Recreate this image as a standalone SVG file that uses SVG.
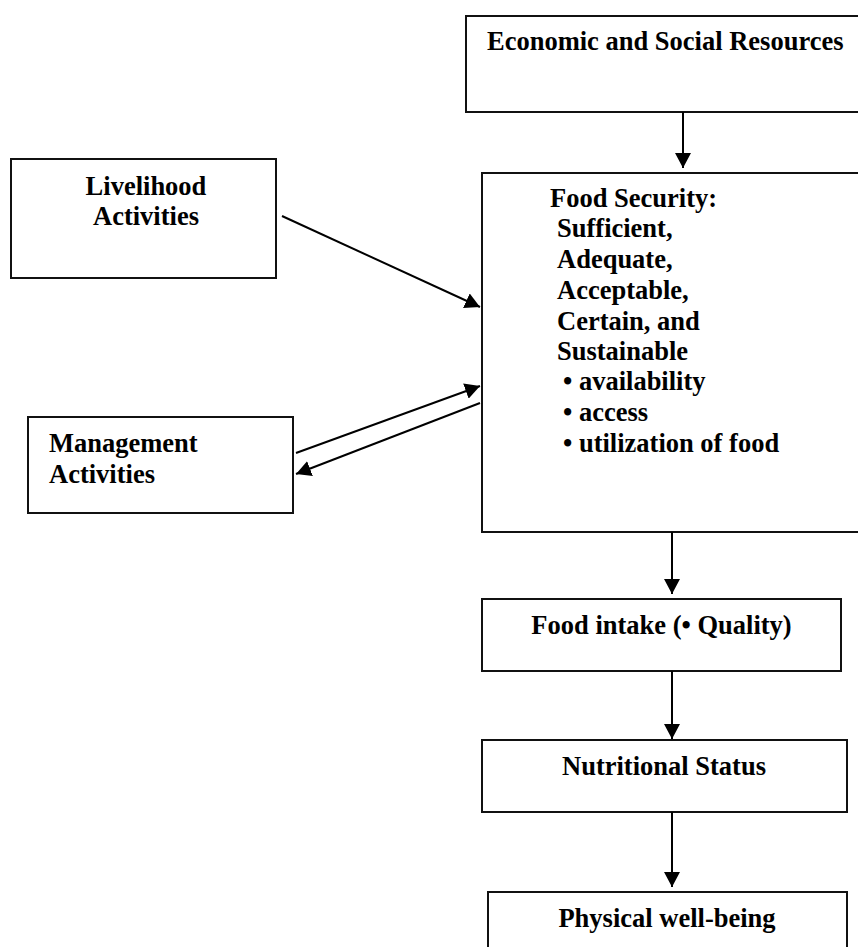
<svg xmlns="http://www.w3.org/2000/svg" width="858" height="947" viewBox="0 0 858 947">
<style>
.box{fill:#fff;stroke:#111;stroke-width:2}
.t{font-family:"Liberation Serif","Times New Roman",serif;font-weight:bold;font-size:26.5px;fill:#000}
.c{text-anchor:middle}
.ln{stroke:#000;stroke-width:2;fill:none}
</style>
<defs>
<marker id="ah" markerUnits="userSpaceOnUse" markerWidth="16" markerHeight="16" refX="15" refY="8" orient="auto">
<path d="M0,0 L15,8 L0,16 z" fill="#000"/>
</marker>
</defs>
<rect width="858" height="947" fill="#fff"/>
<g id="economic">
<rect class="box" x="466" y="16" width="404" height="96"/>
<text class="t" x="487" y="50">Economic and Social Resources</text>
</g>
<g id="livelihood">
<rect class="box" x="11" y="159" width="265" height="119"/>
<text class="t c" x="146" y="195">Livelihood</text>
<text class="t c" x="146" y="225">Activities</text>
</g>
<g id="management">
<rect class="box" x="28" y="417" width="265" height="96"/>
<text class="t" x="49" y="452">Management</text>
<text class="t" x="49" y="483">Activities</text>
</g>
<g id="foodsecurity">
<rect class="box" x="482" y="173" width="388" height="359"/>
<text class="t" x="550" y="207">Food Security:</text>
<text class="t" x="557" y="237">Sufficient,</text>
<text class="t" x="557" y="268">Adequate,</text>
<text class="t" x="557" y="299">Acceptable,</text>
<text class="t" x="557" y="330">Certain, and</text>
<text class="t" x="557" y="360">Sustainable</text>
<text class="t" x="563" y="390">• availability</text>
<text class="t" x="563" y="421">• access</text>
<text class="t" x="563" y="452">• utilization of food</text>
</g>
<g id="foodintake">
<rect class="box" x="482" y="599" width="359" height="72"/>
<text class="t c" x="661.5" y="634">Food intake (• Quality)</text>
</g>
<g id="nutritional">
<rect class="box" x="482" y="740" width="365" height="72"/>
<text class="t c" x="664" y="775">Nutritional Status</text>
</g>
<g id="physical">
<rect class="box" x="488" y="892" width="359" height="80"/>
<text class="t c" x="667" y="927">Physical well-being</text>
</g>
<g id="connectors">
<line class="ln" x1="683" y1="112" x2="683" y2="168" marker-end="url(#ah)"/>
<line class="ln" x1="282" y1="216" x2="480" y2="307" marker-end="url(#ah)"/>
<line class="ln" x1="296" y1="453" x2="480" y2="386" marker-end="url(#ah)"/>
<line class="ln" x1="480" y1="403" x2="296" y2="474" marker-end="url(#ah)"/>
<line class="ln" x1="672" y1="532" x2="672" y2="594" marker-end="url(#ah)"/>
<line class="ln" x1="672" y1="671" x2="672" y2="739" marker-end="url(#ah)"/>
<line class="ln" x1="672" y1="812" x2="672" y2="887" marker-end="url(#ah)"/>
</g>
</svg>
